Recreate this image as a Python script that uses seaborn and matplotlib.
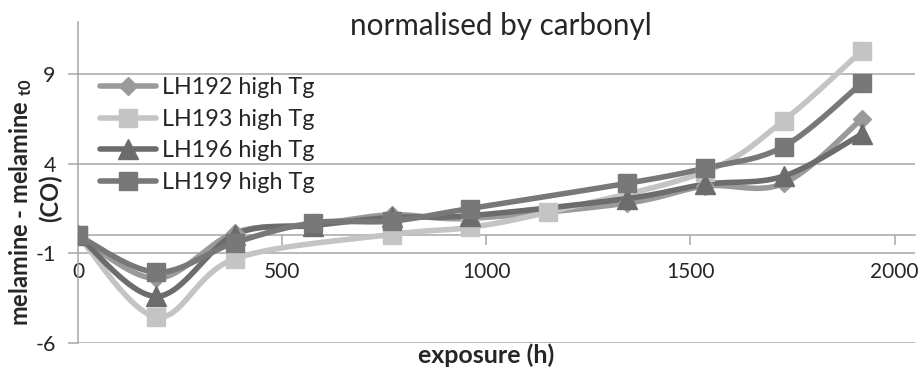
import numpy as np
import pandas as pd
import matplotlib
matplotlib.use("Agg")
import matplotlib.pyplot as plt
from matplotlib.lines import Line2D
import seaborn as sns

# exposure times (h) and values
hours_std = [0, 192, 384, 576, 768, 960, 1344, 1536, 1728, 1920]
hours_193 = [0, 192, 384, 768, 960, 1152, 1536, 1728, 1920]

lh192 = [0, -2.4, 0.15, 0.6, 1.15, 0.95, 1.8, 2.75, 2.9, 6.5]
lh193 = [0, -4.55, -1.3, 0.05, 0.45, 1.3, 3.55, 6.4, 10.3]
lh196 = [0, -3.4, 0.05, 0.55, 1.0, 1.1, 2.05, 2.85, 3.3, 5.65]
lh199 = [0, -2.05, -0.4, 0.7, 0.8, 1.5, 2.9, 3.75, 4.95, 8.5]

labels = ["LH192 high Tg", "LH193 high Tg", "LH196 high Tg", "LH199 high Tg"]
colors = ["#9a9a9a", "#c4c4c4", "#6c6c6c", "#787878"]
markers = ["D", "s", "^", "s"]
msizes = [9.5, 13, 14, 13]

x_ticks = [0, 500, 1000, 1500, 2000]
y_ticks = [-6, -1, 4, 9]


def smooth(x, y, n=30):
    # Excel-style smoothed line (Bezier with 1/6 tangent control points)
    x = np.asarray(x, float)
    y = np.asarray(y, float)
    px = np.concatenate([[x[0]], x, [x[-1]]])
    py = np.concatenate([[y[0]], y, [y[-1]]])
    xs, ys = [], []
    t = np.linspace(0, 1, n)
    for i in range(1, len(px) - 2):
        p0 = np.array([px[i], py[i]])
        p3 = np.array([px[i + 1], py[i + 1]])
        c1 = p0 + (p3 - np.array([px[i - 1], py[i - 1]])) / 6
        c2 = p3 - (np.array([px[i + 2], py[i + 2]]) - p0) / 6
        b = ((1 - t) ** 3)[:, None] * p0 + (3 * (1 - t) ** 2 * t)[:, None] * c1 \
            + (3 * (1 - t) * t ** 2)[:, None] * c2 + (t ** 3)[:, None] * p3
        xs.extend(b[:, 0])
        ys.extend(b[:, 1])
    return np.array(xs), np.array(ys)


sns.set_theme(style="white")
plt.rcParams["font.family"] = ["Lato", "DejaVu Sans"]
plt.rcParams["mathtext.default"] = "regular"
plt.rcParams["axes.unicode_minus"] = False

fig = plt.figure(figsize=(9.23, 3.76), dpi=100)
ax = fig.add_axes([78 / 923, 1 - 343 / 376, (915 - 78) / 923, (343 - 22) / 376])

series = [(hours_std, lh192), (hours_193, lh193), (hours_std, lh196), (hours_std, lh199)]
handles = []
for (hx, hy), lab, c, m, ms in zip(series, labels, colors, markers, msizes):
    sx, sy = smooth(hx, hy)
    df = pd.DataFrame({"x": sx, "y": sy})
    sns.lineplot(data=df, x="x", y="y", color=c, lw=4, sort=False, ax=ax, zorder=3)
    ax.plot(hx, hy, ls="none", marker=m, ms=ms, color=c, mec=c, zorder=4)
    handles.append(Line2D([], [], color=c, lw=4, marker=m, ms=ms, mec=c))

ax.set_xlim(0, 2050)
ax.set_ylim(-6, 11.9)
ax.set_yticks(y_ticks)
ax.set_xticks(x_ticks)
ax.grid(axis="y", color="#a6a6a6", lw=1.1)
ax.set_axisbelow(True)

for s in ["top", "right"]:
    ax.spines[s].set_visible(False)
ax.spines["left"].set_color("#a6a6a6")
ax.spines["left"].set_linewidth(1.1)
ax.spines["bottom"].set_position(("data", 0))
ax.spines["bottom"].set_color("#a6a6a6")
ax.spines["bottom"].set_linewidth(1.1)

ax.tick_params(axis="x", direction="out", length=7, width=1.1, color="#a6a6a6",
               pad=12, labelsize=15, labelcolor="#262626", bottom=True)
ax.tick_params(axis="y", direction="out", length=7, width=1.1, color="#a6a6a6",
               pad=9, labelsize=15.5, labelcolor="#262626", left=True)
ax.set_xlabel("")
ax.set_ylabel("")

ax.legend(handles, labels, loc="upper left", bbox_to_anchor=(0.026, 0.828),
          frameon=False, fontsize=16.8, handlelength=2.4, handletextpad=0.25,
          labelspacing=0.45, borderaxespad=0, borderpad=0, labelcolor="#262626")

fig.text(501 / 923, 1 - 35 / 376, "normalised by carbonyl", ha="center", va="baseline",
         fontsize=21.3, color="#262626")
fig.text(486 / 923, 1 - 363 / 376, "exposure (h)", ha="center", va="baseline",
         fontsize=18, fontweight="bold", color="#262626")
fig.text(21 / 923, 1 - 202 / 376, r"melamine - melamine $_{t0}$", rotation=90,
         ha="center", va="center", fontsize=17, fontweight="bold", color="#262626")
fig.text(50 / 923, 1 - 198 / 376, "(CO)", rotation=90, ha="center", va="center",
         fontsize=17, fontweight="bold", color="#262626")

fig.savefig("out.png", dpi=100)
